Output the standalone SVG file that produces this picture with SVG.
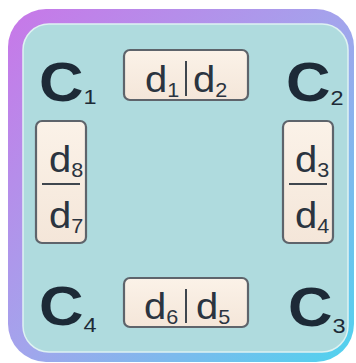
<svg xmlns="http://www.w3.org/2000/svg" width="356" height="363" viewBox="0 0 356 363">
<defs>
<linearGradient id="frameGrad" x1="0" y1="0" x2="1" y2="1">
<stop offset="0" stop-color="#c877e8"/>
<stop offset="0.5" stop-color="#a3a4ec"/>
<stop offset="1" stop-color="#4fd3ee"/>
</linearGradient>
<linearGradient id="tileGrad" x1="0" y1="0" x2="0" y2="1">
<stop offset="0" stop-color="#fbf2e8"/>
<stop offset="1" stop-color="#f4e6d9"/>
</linearGradient>
</defs>
<style>
.tile{fill:url(#tileGrad);stroke:#5e646b;stroke-width:2.2}
.div{stroke:#3f464e;stroke-width:2;fill:none}
.big{font-family:"Liberation Sans",Arial,sans-serif;font-weight:bold;font-size:55px;fill:#1d2a37}
.sub{font-weight:normal;font-size:21px}
.d{font-family:"Liberation Sans",Arial,sans-serif;font-size:37px;fill:#2b3440}
.ds{font-size:20px}
</style>
<g id="frame">
<rect x="8" y="9" width="346" height="353" rx="38" fill="url(#frameGrad)"/>
<rect x="23" y="24" width="325" height="328" rx="26" fill="#afdbde" stroke="#def2f2" stroke-width="1.5"/>
</g>
<g id="c1">
<text class="big" transform="translate(39,101) scale(1.12,1)">C<tspan class="sub" dy="3">1</tspan></text>
</g>
<g id="c2">
<text class="big" transform="translate(286,101) scale(1.12,1)">C<tspan class="sub" dy="4">2</tspan></text>
</g>
<g id="c3">
<text class="big" transform="translate(288,326) scale(1.12,1)">C<tspan class="sub" dy="7">3</tspan></text>
</g>
<g id="c4">
<text class="big" transform="translate(39,325) scale(1.12,1)">C<tspan class="sub" dy="7">4</tspan></text>
</g>
<g id="tile-top">
<rect class="tile" x="124" y="50" width="124" height="50" rx="6"/>
<line class="div" x1="186" y1="61" x2="186" y2="96"/>
<text class="d" transform="translate(145,92) scale(1.08,1)">d<tspan class="ds" dy="5">1</tspan></text>
<text class="d" transform="translate(193,92) scale(1.08,1)">d<tspan class="ds" dy="5">2</tspan></text>
</g>
<g id="tile-right">
<rect class="tile" x="283" y="121" width="50" height="122" rx="6"/>
<line class="div" x1="289" y1="184" x2="327" y2="184"/>
<text class="d" transform="translate(295,172) scale(1.08,1)">d<tspan class="ds" dy="5">3</tspan></text>
<text class="d" transform="translate(295,228) scale(1.08,1)">d<tspan class="ds" dy="5">4</tspan></text>
</g>
<g id="tile-bottom">
<rect class="tile" x="124" y="278" width="124" height="49" rx="6"/>
<line class="div" x1="186" y1="289" x2="186" y2="323"/>
<text class="d" transform="translate(144,319) scale(1.08,1)">d<tspan class="ds" dy="5">6</tspan></text>
<text class="d" transform="translate(196,319) scale(1.08,1)">d<tspan class="ds" dy="5">5</tspan></text>
</g>
<g id="tile-left">
<rect class="tile" x="36" y="121" width="50" height="122" rx="6"/>
<line class="div" x1="42" y1="184" x2="80" y2="184"/>
<text class="d" transform="translate(49,172) scale(1.08,1)">d<tspan class="ds" dy="5">8</tspan></text>
<text class="d" transform="translate(49,228) scale(1.08,1)">d<tspan class="ds" dy="5">7</tspan></text>
</g>
</svg>
